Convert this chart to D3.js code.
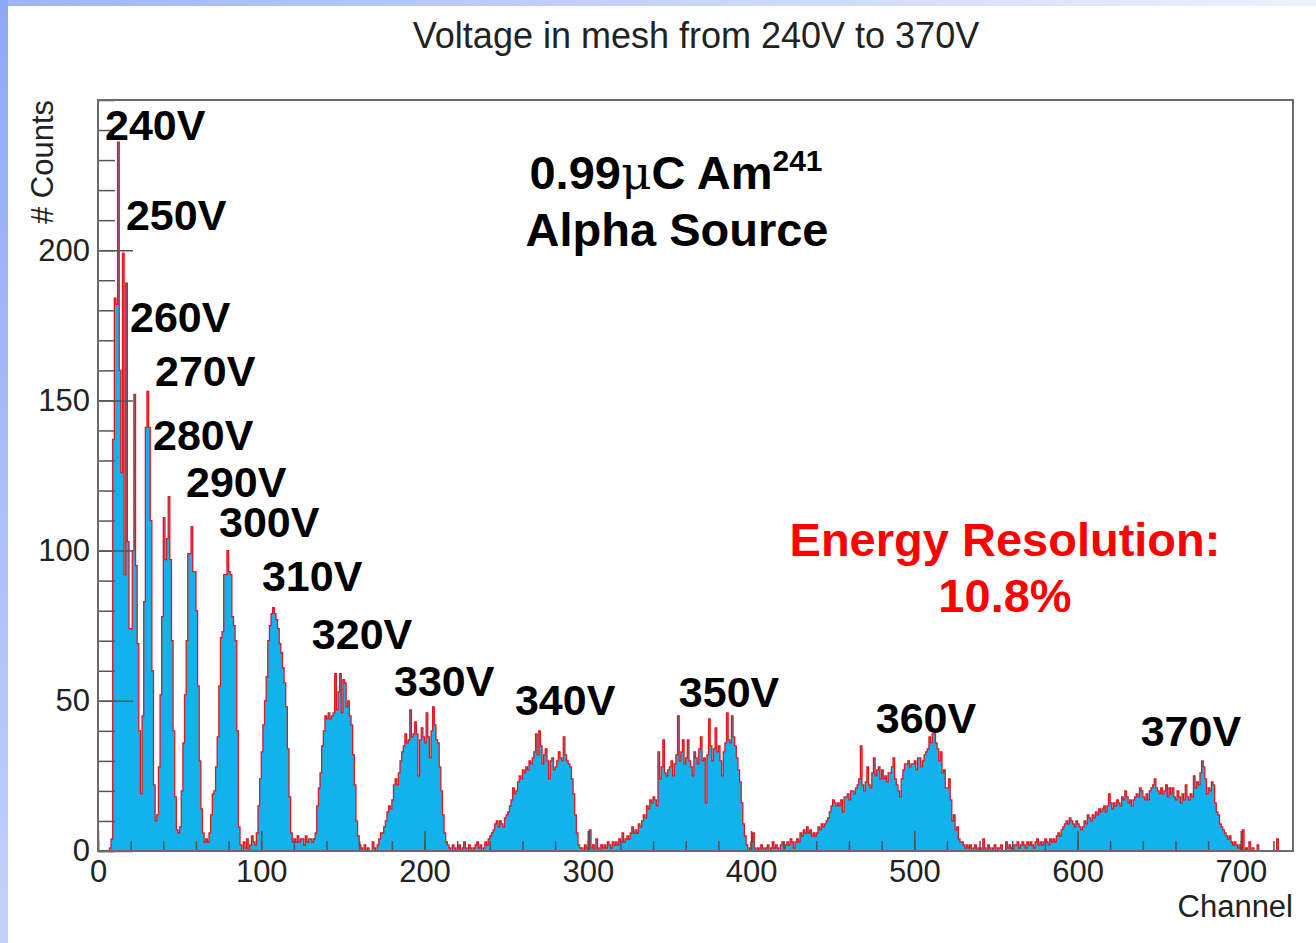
<!DOCTYPE html>
<html>
<head>
<meta charset="utf-8">
<script src="https://cdn.jsdelivr.net/npm/d3@7"></script>
<style>
body { margin: 0; background: #fff; }
svg { display: block; font-family: "Liberation Sans", Arial, sans-serif; }
</style>
</head>
<body>
<script>
// counts per channel, one block for each 100 channels
var ch000 = [0,0,0,0,0,0,0,1,4,137,
             184,182,236,160,126,199,92,189,103,74,
             74,100,152,95,69,40,19,45,83,141,
             153,141,110,60,22,10,12,28,52,78,
             111,97,104,118,97,70,40,18,7,6,
             8,20,36,52,70,99,99,108,93,93,
             80,55,30,14,6,3,4,3,6,12,
             19,20,28,38,55,71,73,92,92,100,
             93,92,78,75,70,40,8,2,0,3,
             1,4,0,2,5,3,2,6,15,24];
var ch100 = [33,42,50,58,70,75,79,81,79,77,
             74,69,66,61,56,48,34,18,6,3,
             4,3,5,3,4,4,2,5,3,4,
             4,3,4,6,15,21,26,35,40,45,
             44,46,44,45,46,59,47,53,59,46,
             57,56,48,50,45,42,32,22,10,5,
             2,1,0,2,0,1,0,0,3,1,
             0,2,4,6,6,8,10,13,15,14,
             17,22,24,22,26,30,33,35,39,36,
             37,47,38,39,43,39,25,37,41,38];
var ch200 = [36,46,38,31,40,48,42,37,36,28,
             20,12,6,3,2,1,0,2,1,0,
             1,2,0,1,3,1,0,2,1,0,
             1,2,3,1,2,0,1,3,2,4,
             5,6,7,9,10,8,10,9,8,11,
             12,13,15,17,21,19,20,23,25,24,
             27,26,28,27,30,29,31,33,39,32,
             40,35,29,32,34,30,24,30,31,27,
             28,30,33,31,30,38,32,30,29,28,
             24,19,12,6,2,1,1,0,2,1];
var ch300 = [0,7,1,2,0,4,1,0,2,1,
             2,1,3,2,1,3,2,3,2,4,
             3,6,3,4,5,4,6,8,6,7,
             6,9,8,10,12,11,15,14,17,16,
             18,17,15,33,24,28,37,26,25,27,
             28,30,25,29,32,45,30,33,37,29,
             31,37,30,28,25,33,31,29,34,38,
             30,31,16,32,44,35,30,34,41,33,
             35,30,25,33,36,46,37,36,45,38,
             35,31,27,23,16,9,5,2,0,1];
var ch400 = [3,6,1,0,1,0,2,1,0,1,
             2,0,1,3,1,2,1,0,2,3,
             1,2,3,2,4,3,1,3,4,3,
             6,5,7,6,8,6,7,5,6,5,
             6,8,7,9,8,9,10,11,13,15,
             17,16,15,16,15,17,13,18,18,19,
             17,20,20,19,21,22,24,35,22,20,
             23,28,22,21,26,31,25,27,28,24,
             27,24,25,23,26,26,28,31,24,22,
             20,18,24,27,29,29,30,28,29,29];
var ch500 = [30,27,31,31,28,30,32,33,34,38,
             36,39,39,36,34,30,33,26,27,21,
             21,24,17,10,12,7,8,4,3,3,
             2,1,2,1,2,0,1,2,0,1,
             1,0,4,1,0,2,1,0,1,2,
             0,1,1,2,0,0,3,1,2,1,
             0,2,2,3,1,2,3,2,1,3,
             2,3,2,1,3,4,2,3,2,3,
             4,3,2,4,3,4,3,5,6,5,
             7,8,9,10,9,11,10,9,8,10];
var ch600 = [9,8,7,8,10,9,12,11,10,12,
             11,13,12,14,13,14,15,13,15,19,
             16,14,16,15,17,16,15,18,17,20,
             18,16,17,15,17,18,19,18,21,20,
             18,17,19,17,20,21,22,24,21,20,
             19,21,19,20,22,18,21,19,21,18,
             17,20,18,16,19,17,22,18,17,19,
             18,25,21,23,22,26,30,28,24,19,
             21,20,23,22,16,13,12,9,8,7,
             6,5,4,5,3,2,3,2,1,2,
             0,7,0,1,0,3,0,1,0,0,
             2,0,0,0,0,0,0,0,0,0,
             0,0,4,0,0,0,0,0,0,0,
             0,0];

var blockStart = [0, 100, 200, 300, 400, 500, 600];
var blockData = [ch000, ch100, ch200, ch300, ch400, ch500, ch600];

var nChannels = 732;
var yTicks = [0, 50, 100, 150, 200];
var xTicks = [0, 100, 200, 300, 400, 500, 600, 700];

var voltages = ["240V","250V","260V","270V","280V","290V","300V",
                "310V","320V","330V","340V","350V","360V","370V"];
// where each voltage label sits, in channel / count units
var voltageAt = [[4.3,236.6],[17.1,206.7],[19.6,172.7],[34.9,154.7],[33.7,133.4],
                 [53.9,117.8],[74.1,104.5],[100.4,86.5],[131,67.2],[181.3,51.6],
                 [255.4,45.3],[355.8,47.9],[476.4,39.3],[638.7,34.9]];

var W = 1316, H = 943;
var padL = 98, padR = 1293, padT = 100, padB = 851;

var svg = d3.select("body").append("svg")
            .attr("width", W)
            .attr("height", H);

// slide background strips
var defs = svg.append("defs");
var gl = defs.append("linearGradient").attr("id", "gLeft")
             .attr("x1", 0).attr("y1", 0).attr("x2", 0).attr("y2", 1);
gl.append("stop").attr("offset", "0%").attr("stop-color", "#8fa9f6");
gl.append("stop").attr("offset", "100%").attr("stop-color", "#c3d1fa");
var gt = defs.append("linearGradient").attr("id", "gTop")
             .attr("x1", 0).attr("y1", 0).attr("x2", 1).attr("y2", 0);
gt.append("stop").attr("offset", "0%").attr("stop-color", "#9db4f8");
gt.append("stop").attr("offset", "100%").attr("stop-color", "#eef2fe");
defs.append("clipPath").attr("id", "plotClip")
    .append("rect").attr("x", padL).attr("y", padT)
    .attr("width", padR - padL).attr("height", padB - padT);

svg.append("rect").attr("x", 0).attr("y", 0).attr("width", W).attr("height", 6)
   .attr("fill", "url(#gTop)");
svg.append("rect").attr("x", 0).attr("y", 0).attr("width", 8).attr("height", H)
   .attr("fill", "url(#gLeft)");

var x = d3.scaleLinear().domain([0, nChannels]).range([padL, padR]);
var y = d3.scaleLinear().domain([0, 250]).range([padB, padT]);

// build bin table from the blocks
var counts = new Array(nChannels).fill(0);
blockData.forEach(function(arr, b){
    arr.forEach(function(v, i){
        var ch = blockStart[b] + i;
        if (ch < nChannels) counts[ch] = v;
    });
});
var bins = counts.map(function(c, i){ return {ch: i, c: c}; });
bins.push({ch: nChannels, c: 0});

var area = d3.area().curve(d3.curveStepAfter)
             .x(function(d){ return x(d.ch); })
             .y0(y(0))
             .y1(function(d){ return y(d.c); });
var line = d3.line().curve(d3.curveStepAfter)
             .x(function(d){ return x(d.ch); })
             .y(function(d){ return y(d.c); });

var plot = svg.append("g").attr("clip-path", "url(#plotClip)");
plot.append("path").datum(bins)
    .attr("d", area)
    .attr("fill", "#12b2ec");
plot.append("path").datum(bins)
    .attr("d", line)
    .attr("fill", "none")
    .attr("stroke", "#e4161e")
    .attr("stroke-width", 1.3);

// axes, ticks point into the frame
var yMinor = svg.append("g").attr("transform", "translate(" + padL + ",0)")
                .call(d3.axisLeft(y).tickValues(d3.range(0, 251, 10)).tickSize(-17).tickFormat(""));
var yMajor = svg.append("g").attr("transform", "translate(" + padL + ",0)")
                .call(d3.axisLeft(y).tickValues(yTicks).tickSize(-35).tickPadding(8));
var xMinor = svg.append("g").attr("transform", "translate(0," + padB + ")")
                .call(d3.axisBottom(x).tickValues(d3.range(0, 731, 20)).tickSize(-10).tickFormat(""));
var xMajor = svg.append("g").attr("transform", "translate(0," + padB + ")")
                .call(d3.axisBottom(x).tickValues(xTicks).tickSize(-20).tickPadding(9));

[yMinor, yMajor, xMinor, xMajor].forEach(function(g){
    g.select(".domain").remove();
    g.selectAll(".tick line").attr("stroke", "#555").attr("stroke-width", 1.5);
    g.selectAll(".tick text")
     .attr("fill", "#222")
     .style("font-size", "31px")
     .style("font-family", "Liberation Sans, Arial, sans-serif");
});

svg.append("rect")
   .attr("x", padL).attr("y", padT)
   .attr("width", padR - padL).attr("height", padB - padT)
   .attr("fill", "none")
   .attr("stroke", "#6a6a6a")
   .attr("stroke-width", 2);

// titles
svg.append("text")
   .attr("x", 696).attr("y", 48)
   .attr("text-anchor", "middle")
   .style("font-size", "36px")
   .attr("fill", "#222")
   .text("Voltage in mesh from 240V to 370V");

svg.append("text")
   .attr("transform", "translate(53," + padT + ") rotate(-90)")
   .attr("text-anchor", "end")
   .style("font-size", "31px")
   .attr("fill", "#222")
   .text("# Counts");

svg.append("text")
   .attr("x", padR).attr("y", 917)
   .attr("text-anchor", "end")
   .style("font-size", "31px")
   .attr("fill", "#222")
   .text("Channel");

// voltage labels
svg.append("g").selectAll("text")
   .data(voltages)
   .enter().append("text")
   .attr("x", function(d, i){ return x(voltageAt[i][0]); })
   .attr("y", function(d, i){ return y(voltageAt[i][1]); })
   .style("font-size", "43px")
   .style("font-weight", "bold")
   .attr("fill", "#000")
   .text(function(d){ return d; });

// source note
var src = svg.append("text")
   .attr("x", 676).attr("y", 189)
   .attr("text-anchor", "middle")
   .style("font-size", "47px")
   .style("font-weight", "bold")
   .attr("fill", "#000");
src.append("tspan").text("0.99");
src.append("tspan").style("font-family", "DejaVu Serif, serif").style("font-weight", "normal").text("\u03bc");
src.append("tspan").text("C Am");
src.append("tspan").attr("dy", -18).style("font-size", "30px").text("241");

svg.append("text")
   .attr("x", 677).attr("y", 246)
   .attr("text-anchor", "middle")
   .style("font-size", "47px")
   .style("font-weight", "bold")
   .attr("fill", "#000")
   .text("Alpha Source");

svg.append("text")
   .attr("x", 1005).attr("y", 556)
   .attr("text-anchor", "middle")
   .style("font-size", "47px")
   .style("font-weight", "bold")
   .attr("fill", "#ff0000")
   .text("Energy Resolution:");

svg.append("text")
   .attr("x", 1005).attr("y", 612)
   .attr("text-anchor", "middle")
   .style("font-size", "47px")
   .style("font-weight", "bold")
   .attr("fill", "#ff0000")
   .text("10.8%");
</script>
</body>
</html>
